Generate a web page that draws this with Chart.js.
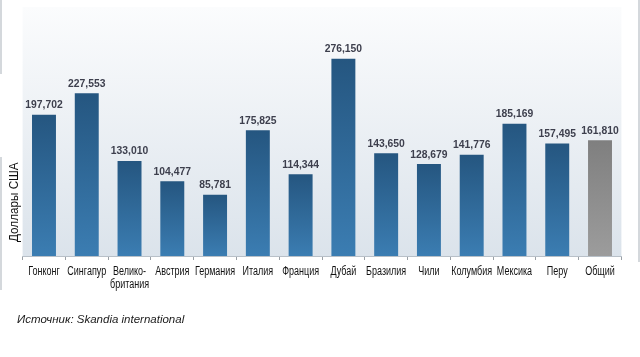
<!DOCTYPE html>
<html><head><meta charset="utf-8">
<script src="https://cdn.jsdelivr.net/npm/chart.js@4"></script>
<style>html,body{margin:0;padding:0;background:#fff}#wrap{position:relative;width:640px;height:357px}</style>
</head><body><div id="wrap"><canvas id="c" width="640" height="357"></canvas></div>
<script>
const categories = ["Гонконг","Сингапур",["Велико-","британия"],"Австрия","Германия","Италия","Франция","Дубай","Бразилия","Чили","Колумбия","Мексика","Перу","Общий"];
const values = [197702,227553,133010,104477,85781,175825,114344,276150,143650,128679,141776,185169,157495,161810];
const isTotal = [false,false,false,false,false,false,false,false,false,false,false,false,false,true];
const yTitle = "Доллары США";
const sourceText = "Источник: Skandia international";
const SANS = "'Liberation Sans',Arial,sans-serif";

function barGrad(ctx){
  const chart = ctx.chart, area = chart.chartArea;
  const i = ctx.dataIndex;
  if(!area || !chart.scales.y) return isTotal[i] ? '#8c8c8c' : '#2f6a9a';
  let top = chart.scales.y.getPixelForValue(values[i]);
  if(!isFinite(top) || !isFinite(area.bottom)) return isTotal[i] ? '#8c8c8c' : '#2f6a9a';
  const g = chart.ctx.createLinearGradient(0, top, 0, area.bottom);
  if(isTotal[i]){ g.addColorStop(0,'#7f7f7f'); g.addColorStop(1,'#9c9c9c'); }
  else { g.addColorStop(0,'#255680'); g.addColorStop(1,'#3b7db2'); }
  return g;
}

function condensedText(ctx, text, x, y, sx){
  ctx.save();
  ctx.translate(x, y);
  ctx.scale(sx, 1);
  ctx.fillText(text, 0, 0);
  ctx.restore();
}

const deco = {
  id:'deco',
  beforeDraw(chart){
    const {ctx, chartArea:a} = chart;
    ctx.save();
    const g = ctx.createLinearGradient(0, a.top-6, 0, a.bottom);
    g.addColorStop(0,'#fbfcfd'); g.addColorStop(1,'#dbe3eb');
    ctx.fillStyle = g;
    ctx.fillRect(a.left, a.top-6, a.right-a.left, a.bottom-a.top+6);
    ctx.fillStyle = '#d4d8dc';
    ctx.fillRect(0,0,2,74);
    ctx.fillRect(0,157,2,133);
    ctx.fillRect(638,0,2,262);
    ctx.restore();
  },
  afterDatasetsDraw(chart){
    const {ctx} = chart;
    const meta = chart.getDatasetMeta(0);
    ctx.save();
    ctx.font = "bold 11px " + SANS;
    ctx.fillStyle = '#3d3f4d';
    ctx.textAlign = 'center'; ctx.textBaseline = 'bottom';
    meta.data.forEach((el,i)=>{
      condensedText(ctx, values[i].toLocaleString('en-US'), el.x, el.y-4, 0.94);
    });
    ctx.restore();
  },
  afterDraw(chart){
    const {ctx} = chart;
    const xs = chart.scales.x;
    // category labels, condensed
    ctx.save();
    ctx.fillStyle = '#111';
    ctx.font = "12.5px " + SANS;
    ctx.textAlign = 'center'; ctx.textBaseline = 'alphabetic';
    categories.forEach((lab,i)=>{
      const x = xs.getPixelForTick(i);
      const lines = Array.isArray(lab) ? lab : [lab];
      lines.forEach((t,k)=> condensedText(ctx, t, x, xs.top + 19 + k*13, 0.72));
    });
    ctx.restore();
    // y title
    ctx.save();
    ctx.fillStyle = '#111';
    ctx.font = "13px " + SANS;
    ctx.translate(18, 242);
    ctx.rotate(-Math.PI/2);
    ctx.scale(0.9, 1);
    ctx.textAlign='left'; ctx.textBaseline='alphabetic';
    ctx.fillText(yTitle, 0, 0);
    ctx.restore();
    // source
    ctx.save();
    ctx.fillStyle = '#1a1a1a';
    ctx.font = "italic 11.5px " + SANS;
    ctx.textAlign='left'; ctx.textBaseline='alphabetic';
    ctx.fillText(sourceText, 17, 323);
    ctx.restore();
  }
};

new Chart(document.getElementById('c'), {
  type:'bar',
  data:{labels:categories, datasets:[{data:values, backgroundColor:barGrad, borderWidth:0, barPercentage:0.56, categoryPercentage:1}]},
  options:{
    responsive:false, animation:false, devicePixelRatio:1,
    layout:{padding:{left:22.6, right:18.6, top:13, bottom:0}},
    plugins:{legend:{display:false}, tooltip:{enabled:false}},
    scales:{
      x:{
        offset:true,
        grid:{display:true, drawOnChartArea:false, color:'#9aa0a6', tickLength:4, offset:true},
        border:{display:true, color:'#b8c0c8'},
        ticks:{display:false},
        afterFit(s){ s.height = 101; }
      },
      y:{display:false, min:0, max:340000}
    }
  },
  plugins:[deco]
});
</script></body></html>
